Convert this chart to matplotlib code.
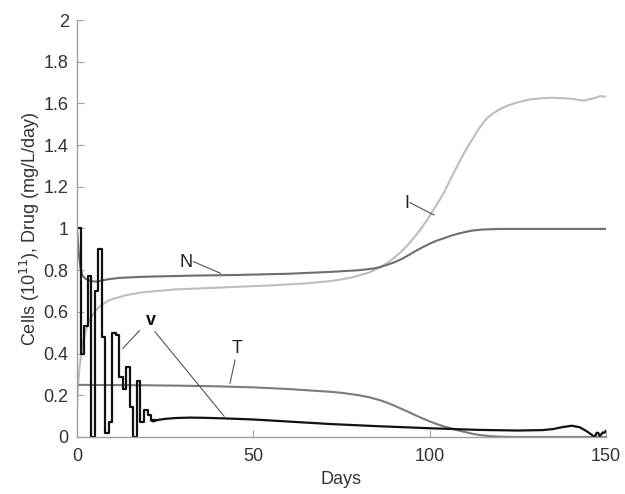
import matplotlib
matplotlib.use("Agg")
import matplotlib.pyplot as plt

plt.rcParams['font.family'] = ['Liberation Sans', 'DejaVu Sans']

# ---- data ----
# drug dose v: daily steps for days 0..21
v_step_days = list(range(0, 23))
v_step_vals = [1.0, 0.40, 0.53, 0.77, 0.0, 0.70, 0.90, 0.48, 0.02, 0.07, 0.50, 0.49,
               0.29, 0.23, 0.335, 0.145, 0.0, 0.27, 0.07, 0.13, 0.105, 0.08, 0.08]
# drug dose v: smooth part afterwards
v_days = [21, 21.5, 22, 23, 25, 28, 32, 36, 42, 50, 60, 72, 85, 100, 114, 125, 132, 135,
          137.5, 140.3, 142.5, 144.5, 146.4, 147.0, 147.3, 147.8, 148.2, 149.1, 149.5, 150]
v_vals = [0.08, 0.075, 0.077, 0.082, 0.087, 0.091, 0.093, 0.092, 0.089, 0.084, 0.074, 0.062,
          0.052, 0.042, 0.034, 0.031, 0.033, 0.038, 0.047, 0.054, 0.047, 0.028, 0.005, 0.005,
          0.02, 0.02, 0.004, 0.022, 0.02, 0.03]

N_days = [0, 0.5, 1, 1.5, 2.5, 4, 5.5, 7, 9, 12, 18, 25, 33, 45, 60, 72, 80, 84, 86, 88,
          90, 92, 94, 96, 98, 100, 102, 104, 106, 108, 110, 112, 115, 120, 150]
N_vals = [1.0, 0.88, 0.81, 0.775, 0.758, 0.748, 0.745, 0.75, 0.757, 0.763, 0.768, 0.771,
          0.774, 0.777, 0.783, 0.792, 0.80, 0.808, 0.815, 0.826, 0.838, 0.853, 0.872, 0.892,
          0.91, 0.927, 0.942, 0.953, 0.965, 0.975, 0.983, 0.99, 0.995, 0.998, 0.998]

I_days = [0, 0.3, 0.7, 1.2, 1.6, 2.5, 3.5, 5, 6.3, 9.2, 13.9, 18.6, 28, 34, 45, 55, 65, 72,
          78, 83, 86, 88, 90, 92, 94, 96, 98, 100, 102, 104, 106, 108, 110, 112, 114, 116,
          118, 120, 122, 124, 126, 128.4, 132, 135, 139.8, 143.6, 146.4, 148.3, 150]
I_vals = [0.15, 0.25, 0.33, 0.40, 0.45, 0.51, 0.56, 0.60, 0.625, 0.657, 0.68, 0.694, 0.708,
          0.712, 0.72, 0.727, 0.737, 0.748, 0.765, 0.79, 0.815, 0.835, 0.86, 0.89, 0.925,
          0.965, 1.01, 1.06, 1.115, 1.17, 1.24, 1.305, 1.37, 1.425, 1.48, 1.525, 1.553, 1.573,
          1.589, 1.60, 1.61, 1.619, 1.625, 1.627, 1.623, 1.613, 1.624, 1.635, 1.632]

T_days = [0, 10, 20, 30, 40, 50, 60, 71.7, 75, 80, 83, 86, 88, 90, 92, 94, 96, 98, 100,
          102, 104, 106, 108, 110, 112, 114, 116, 118, 121, 125, 150]
T_vals = [0.25, 0.249, 0.248, 0.246, 0.243, 0.238, 0.23, 0.217, 0.212, 0.2, 0.19, 0.176,
          0.164, 0.15, 0.135, 0.12, 0.104, 0.089, 0.075, 0.062, 0.051, 0.042, 0.032, 0.024,
          0.016, 0.01, 0.006, 0.003, 0.001, 0.0, 0.0]

y_ticks = [0, 0.2, 0.4, 0.6, 0.8, 1, 1.2, 1.4, 1.6, 1.8, 2]
y_labels = ['0', '0.2', '0.4', '0.6', '0.8', '1', '1.2', '1.4', '1.6', '1.8', '2']
x_ticks = [0, 50, 100, 150]

# ---- figure ----
fig = plt.figure(figsize=(6.25, 4.94), dpi=100)
ax = fig.add_axes([0.1232, 0.1154, 0.8464, 0.8441])

ax.plot(I_days, I_vals, color='#bdbdbd', lw=1.5)
ax.plot(N_days, N_vals, color='#6e6e6e', lw=1.5)
ax.plot(T_days, T_vals, color='#7a7a7a', lw=1.5)
ax.plot(v_step_days, v_step_vals, color='#111111', lw=1.6, drawstyle='steps-post')
ax.plot(v_days, v_vals, color='#111111', lw=1.6)

ax.set_xlim(0, 150)
ax.set_ylim(0, 2)
ax.set_xticks(x_ticks)
ax.set_yticks(y_ticks)
ax.set_yticklabels(y_labels)

for s in ['top', 'right']:
    ax.spines[s].set_visible(False)
for s in ['left', 'bottom']:
    ax.spines[s].set_color('#a0a0a0')
    ax.spines[s].set_linewidth(1.0)
ax.tick_params(direction='in', length=5, color='#a0a0a0', labelsize=13,
               labelcolor='#333333')
ax.tick_params(axis='x', pad=8)
ax.tick_params(axis='y', pad=6)

ax.set_xlabel('Days', fontsize=13, color='#333333', labelpad=4)
ax.set_ylabel('Cells (10$^{11}$), Drug (mg/L/day)', fontsize=13, color='#333333',
              labelpad=1)

# annotations
lc = '#555555'
ax.text(30.9, 0.838, 'N', fontsize=13, color='#222222', ha='center', va='center')
ax.plot([33.0, 40.7], [0.841, 0.785], color=lc, lw=0.8)
ax.text(93.5, 1.121, 'I', fontsize=13, color='#222222', ha='center', va='center')
ax.plot([94.4, 101.2], [1.124, 1.065], color=lc, lw=0.8)
ax.text(45.4, 0.425, 'T', fontsize=13, color='#222222', ha='center', va='center')
ax.plot([44.8, 43.4], [0.369, 0.258], color=lc, lw=0.8)
ax.text(21.0, 0.561, 'v', fontsize=13, color='#111111', ha='center', va='center',
        fontweight='bold')
ax.plot([17.7, 13.0], [0.51, 0.425], color=lc, lw=0.8)
ax.plot([22.1, 41.7], [0.505, 0.10], color=lc, lw=0.8)

fig.savefig('out.png', dpi=100)
